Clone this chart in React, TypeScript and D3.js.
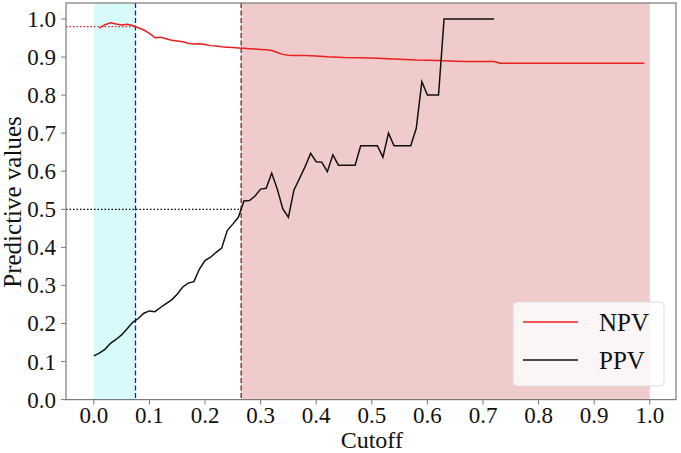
import React from "react";
import * as d3 from "d3";

const npvX = [0.01,0.02,0.03,0.04,0.05,0.06,0.07,0.08,0.09,0.10,0.11,0.12,0.13,0.14,0.15,0.16,0.17,0.18,0.19,0.20,0.21,0.22,0.23,0.24,0.25,0.26,0.27,0.28,0.29,0.30,0.31,0.32,0.33,0.34,0.35,0.36,0.38,0.40,0.42,0.45,0.48,0.51,0.55,0.58,0.62,0.65,0.67,0.72,0.73,0.99];
const npvY = [0.976,0.985,0.990,0.987,0.984,0.986,0.983,0.977,0.971,0.962,0.951,0.952,0.948,0.944,0.942,0.940,0.936,0.934,0.935,0.933,0.930,0.929,0.927,0.926,0.925,0.924,0.923,0.922,0.921,0.920,0.919,0.917,0.912,0.907,0.905,0.904,0.904,0.903,0.901,0.899,0.898,0.897,0.894,0.892,0.891,0.889,0.888,0.888,0.884,0.884];

const ppvX = [0.00,0.01,0.02,0.03,0.04,0.05,0.06,0.07,0.08,0.09,0.10,0.11,0.12,0.13,0.14,0.15,0.16,0.17,0.18,0.19,0.20,0.21,0.22,0.23,0.24,0.25,0.26,0.27,0.28,0.29,0.30,0.31,0.32,0.33,0.34,0.35,0.36,0.37,0.38,0.39,0.40,0.41,0.42,0.43,0.44,0.47,0.48,0.51,0.52,0.53,0.54,0.57,0.58,0.59,0.60,0.62,0.63,0.72];
const ppvY = [0.115,0.122,0.132,0.148,0.158,0.170,0.186,0.203,0.213,0.227,0.233,0.231,0.242,0.252,0.262,0.277,0.296,0.306,0.310,0.343,0.365,0.374,0.387,0.398,0.444,0.461,0.479,0.522,0.523,0.535,0.553,0.555,0.595,0.553,0.501,0.479,0.551,0.581,0.612,0.647,0.625,0.624,0.599,0.643,0.616,0.616,0.667,0.667,0.637,0.700,0.667,0.667,0.713,0.835,0.800,0.800,1.0,1.0];

const xTicks = [0,0.1,0.2,0.3,0.4,0.5,0.6,0.7,0.8,0.9,1.0];
const yTicks = [0,0.1,0.2,0.3,0.4,0.5,0.6,0.7,0.8,0.9,1.0];

const lowCut = 0.075;
const highCut = 0.265;
const npvAtLow = 0.98;
const ppvAtHigh = 0.5;

const W = 681, H = 453;
const L = 66, R = 676, T = 3, B = 399.6;

export default function App() {
  const x = d3.scaleLinear().domain([-0.05, 1.05]).range([L, L + 611.6]);
  const y = d3.scaleLinear().domain([0, 1.042]).range([B, T]);
  const line = d3.line<[number, number]>().x(d => x(d[0])).y(d => y(d[1]));
  const npv = npvX.map((v, i) => [v, npvY[i]] as [number, number]);
  const ppv = ppvX.map((v, i) => [v, ppvY[i]] as [number, number]);
  const font = "'Liberation Serif', 'Times New Roman', serif";
  return (
    <svg width={W} height={H} style={{ position: "absolute", left: 0, top: 0, background: "#fff" }} fontFamily={font}>
      <defs>
        <clipPath id="plot"><rect x={L} y={T} width={R - L} height={B - T} /></clipPath>
      </defs>
      <g clipPath="url(#plot)">
        <rect x={x(0)} y={T} width={x(lowCut) - x(0)} height={B - T} fill="#d7fbfb" />
        <rect x={x(highCut)} y={T} width={x(1) - x(highCut)} height={B - T} fill="#f0cbcb" />
        <line x1={L} x2={x(lowCut)} y1={y(npvAtLow)} y2={y(npvAtLow)} stroke="#e8201e" strokeWidth={1.3} strokeDasharray="1.5,2" />
        <line x1={L} x2={x(highCut)} y1={y(ppvAtHigh)} y2={y(ppvAtHigh)} stroke="#000" strokeWidth={1.2} strokeDasharray="1.5,2" />
        <line x1={x(lowCut)} x2={x(lowCut)} y1={T} y2={B} stroke="#1515e0" strokeWidth={1.3} strokeDasharray="5,2.5" />
        <line x1={x(highCut)} x2={x(highCut)} y1={T} y2={B} stroke="#7a1f1f" strokeWidth={1.3} strokeDasharray="5,2.5" />
        <path d={line(npv) || ""} fill="none" stroke="#e8201e" strokeWidth={1.5} />
        <path d={line(ppv) || ""} fill="none" stroke="#111" strokeWidth={1.5} />
      </g>
      <rect x={L} y={T} width={R - L} height={B - T} fill="none" stroke="#7a7a7a" strokeWidth={1.2} />
      {xTicks.map(t => (
        <g key={"x" + t}>
          <line x1={x(t)} x2={x(t)} y1={B} y2={B + 5} stroke="#7a7a7a" strokeWidth={1} />
          <text x={x(t)} y={423} fontSize={23} textAnchor="middle" fill="#111">{t.toFixed(1)}</text>
        </g>
      ))}
      {yTicks.map(t => (
        <g key={"y" + t}>
          <line x1={L - 5} x2={L} y1={y(t)} y2={y(t)} stroke="#7a7a7a" strokeWidth={1} />
          <text x={56} y={y(t) + 8} fontSize={23} textAnchor="end" fill="#111">{t.toFixed(1)}</text>
        </g>
      ))}
      <text x={x(0.5)} y={448} fontSize={24} textAnchor="middle" fill="#111">Cutoff</text>
      <text transform={`translate(21, 202) rotate(-90)`} fontSize={25} textAnchor="middle" fill="#111">Predictive values</text>
      <g>
        <rect x={513} y={302} width={151} height={84} rx={4} fill="#fff" fillOpacity={0.8} stroke="#dcdcdc" strokeWidth={1} />
        <line x1={523} x2={578} y1={322} y2={322} stroke="#e8201e" strokeWidth={1.4} />
        <line x1={523} x2={578} y1={360} y2={360} stroke="#111" strokeWidth={1.4} />
        <text x={599} y={331} fontSize={25} fill="#111">NPV</text>
        <text x={599} y={369} fontSize={25} fill="#111">PPV</text>
      </g>
    </svg>
  );
}
